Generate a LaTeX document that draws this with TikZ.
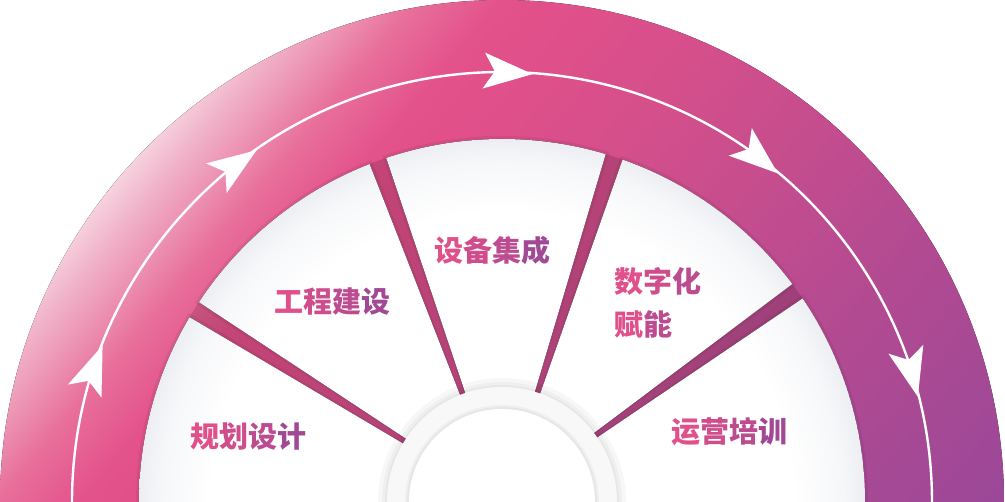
\documentclass[tikz,border=0pt]{standalone}
\usepackage{fontspec}
\newfontfamily\cjk{Noto Sans CJK SC}
\definecolor{g0}{HTML}{F6D2DF}
\definecolor{g1}{HTML}{F0B2C8}
\definecolor{g2}{HTML}{E86F9A}
\definecolor{g3}{HTML}{E3528B}
\definecolor{g4}{HTML}{E2508A}
\definecolor{g5}{HTML}{D44F8B}
\definecolor{g6}{HTML}{B04A92}
\definecolor{g7}{HTML}{9C4898}
\definecolor{g8}{HTML}{984899}
\definecolor{secg1}{HTML}{F6F7F9}
\definecolor{secg2}{HTML}{ECEEF2}
\definecolor{hubout}{HTML}{F8F8F9}
\definecolor{tA}{HTML}{E0508A}
\definecolor{tB}{HTML}{D04D8C}
\definecolor{tC}{HTML}{BC4B90}
\definecolor{tD}{HTML}{A24996}
\pgfdeclareradialshading{secshade}{\pgfpointorigin}{color(0bp)=(white); color(20bp)=(white); color(23.5bp)=(secg1); color(25bp)=(secg2); color(50bp)=(secg2)}
\pgfdeclarehorizontalshading{bandshade}{100bp}{color(0bp)=(g0); color(27.5bp)=(g0); color(29.09bp)=(g1); color(32.73bp)=(g2); color(35.68bp)=(g3); color(37.27bp)=(g4); color(44.32bp)=(g5); color(58.18bp)=(g6); color(67.27bp)=(g7); color(75bp)=(g8); color(100bp)=(g8)}
\tikzset{
  lbl/.style={font=\cjk\bfseries\fontsize{29}{34}\selectfont, inner sep=0pt},
  arrowhd/.style={fill=white},
}
\newcommand{\sectorpath}[2]{(502,0) -- ++(#1:363) arc[start angle=#1, end angle=#2, radius=363] -- cycle}
\begin{document}
\begin{tikzpicture}[x=1pt,y=1pt]
\useasboundingbox (0,0) rectangle (1005,502);
\fill[white] (0,0) rectangle (1005,502);
% gradient half disc
\begin{scope}
  \clip (1004,0) arc[start angle=0, end angle=180, radius=502] -- cycle;
  \begin{scope}[transform canvas={rotate=-40}]
    \fill[shading=bandshade] (150-322.7,-200) rectangle (1250-322.7,1300);
  \end{scope}
\end{scope}
% darker area under sectors (separators)
\fill[black, opacity=0.14] (865,0) arc[start angle=0, end angle=180, radius=363] -- cycle;
% soft shadow along sectors
\foreach \s/\e in {149.4/180, 111.4/146.6, 73.4/108.6, 36.9/70.6, 0/34.1}{
  \fill[black, opacity=0.06] (502,0) -- ++(\s-0.5:366) arc[start angle=\s-0.5, end angle=\e+0.5, radius=366] -- cycle;
}
% white sectors
\begin{scope}
  \clip \sectorpath{149.4}{180} \sectorpath{111.4}{146.6} \sectorpath{73.4}{108.6} \sectorpath{36.9}{70.6} \sectorpath{0}{34.1};
  \fill[shading=secshade] (502,0) circle[radius=363];
\end{scope}
% hub
\fill[black, opacity=0.03] (502,0) circle[radius=124];
\fill[black, opacity=0.03] (502,0) circle[radius=120];
\fill[black, opacity=0.03] (502,0) circle[radius=117];
\fill[hubout] (502,0) circle[radius=115];
\fill[black, opacity=0.035] (502,0) circle[radius=97];
\fill[black, opacity=0.035] (502,0) circle[radius=95];
\fill[white] (502,0) circle[radius=93];
% flow arc
\draw[white, line width=2.4] (72,0) arc[start angle=180, end angle=0, radius=430];
\foreach \a in {158.6,124.9,85.9,50,14.2}{
  \fill[arrowhd, shift={(502,0)}, shift={(\a:429)}, rotate=\a-90]
    (0,0) -- (-49,18) -- (-38,0) -- (-49,-18) -- cycle;
}
% labels
\node[lbl] (s1) at (248,65) {\textcolor{tA}{规}\textcolor{tB}{划}\textcolor{tC}{设}\textcolor{tD}{计}};
\node[lbl] (s2) at (332,200) {\textcolor{tA}{工}\textcolor{tB}{程}\textcolor{tC}{建}\textcolor{tD}{设}};
\node[lbl] (s3) at (492,252) {\textcolor{tA}{设}\textcolor{tB}{备}\textcolor{tC}{集}\textcolor{tD}{成}};
\node[lbl, anchor=west] (s4a) at (614,221) {\textcolor{tA}{数}\textcolor{tB}{字}\textcolor{tC}{化}};
\node[lbl, anchor=west] (s4b) at (614,178) {\textcolor{tA}{赋}\textcolor{tC}{能}};
\node[lbl] (s5) at (729,70) {\textcolor{tA}{运}\textcolor{tB}{营}\textcolor{tC}{培}\textcolor{tD}{训}};
\end{tikzpicture}
\end{document}
